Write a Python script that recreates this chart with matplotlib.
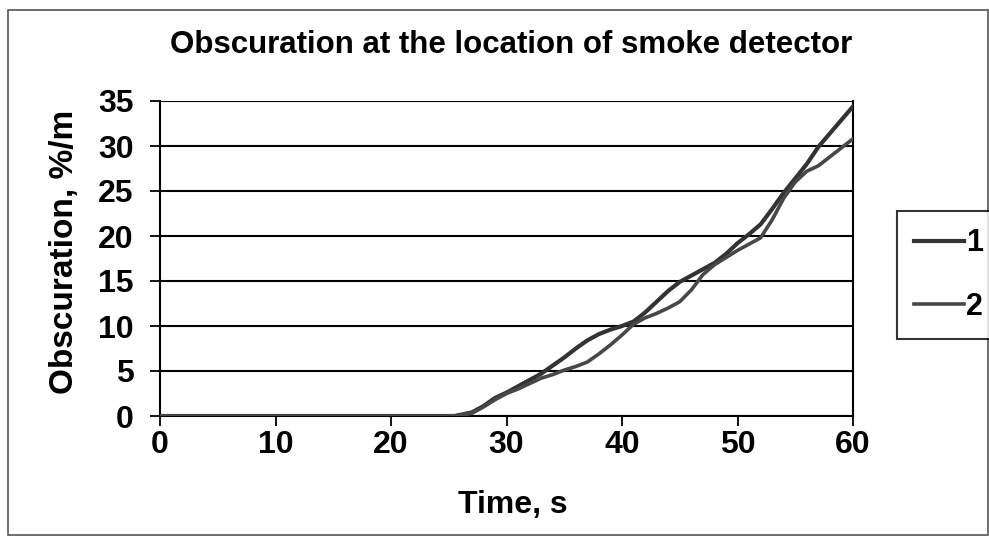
#!/usr/bin/env python3
"""Obscuration at the smoke detector location, two curves."""

import matplotlib
matplotlib.use("Agg")
import matplotlib.pyplot as plt
from matplotlib.patches import Rectangle

plt.rcParams["font.family"] = ["Liberation Sans", "DejaVu Sans"]
plt.rcParams["font.weight"] = "bold"

time_s = [0, 25.5, 27, 28, 29, 30, 31, 32, 33, 34, 35, 36, 37, 38, 39, 40,
          41, 42, 43, 44, 45, 46, 47, 48, 49, 50, 51, 52, 53, 54, 55, 56,
          57, 58, 59, 60]
curve_1 = [0, 0, 0.4, 1.1, 2.0, 2.6, 3.3, 4.0, 4.7, 5.6, 6.5, 7.5, 8.4, 9.1,
           9.6, 10.0, 10.5, 11.5, 12.7, 13.9, 14.9, 15.6, 16.3, 17.0, 18.0,
           19.2, 20.2, 21.3, 23.0, 24.8, 26.4, 28.0, 29.9, 31.4, 32.9, 34.4]
curve_2 = [0, 0, 0.3, 1.0, 1.8, 2.5, 3.0, 3.6, 4.2, 4.6, 5.1, 5.5, 6.0, 6.9,
           7.9, 9.0, 10.2, 10.9, 11.4, 12.0, 12.7, 14.0, 15.7, 16.8, 17.6,
           18.4, 19.1, 19.8, 21.8, 24.2, 26.0, 27.2, 27.8, 28.8, 29.8, 30.8]
labels = ["1", "2"]

x_ticks = [0, 10, 20, 30, 40, 50, 60]
y_ticks = [0, 5, 10, 15, 20, 25, 30, 35]

W, H = 989, 539
fig = plt.figure(figsize=(W / 100, H / 100), dpi=100)
fig.patch.set_facecolor("white")

# outer chart border
fig.patches.append(Rectangle((8 / W, 4 / H), 980 / W, 525 / H,
                             transform=fig.transFigure, fill=False,
                             edgecolor="#555555", linewidth=1.2))

ax = fig.add_axes([160 / W, 1 - 416 / H, (853 - 160) / W, (416 - 101) / H])

ax.plot(time_s, curve_1, color="#333333", linewidth=3.0, label=labels[0],
        solid_joinstyle="round", zorder=3)
ax.plot(time_s, curve_2, color="#474747", linewidth=2.6, label=labels[1],
        solid_joinstyle="round", zorder=3)

ax.set_xlim(0, 60)
ax.set_ylim(0, 35)
ax.set_xticks(x_ticks)
ax.set_yticks(y_ticks)
ax.tick_params(axis="both", direction="out", length=7, width=1.3,
               labelsize=23, colors="black")
ax.tick_params(axis="x", pad=3)
ax.tick_params(axis="y", pad=12)
for lab in ax.get_xticklabels() + ax.get_yticklabels():
    lab.set_fontweight("bold")

ax.grid(axis="y", color="black", linewidth=1.5)
ax.set_axisbelow(True)
for side in ["left", "bottom", "right"]:
    ax.spines[side].set_color("black")
    ax.spines[side].set_linewidth(1.5)
ax.spines["top"].set_visible(False)

fig.text(511 / W, 1 - 45 / H, "Obscuration at the location of smoke detector",
         fontsize=22.5, fontweight="bold", ha="center", va="center")
fig.text(513 / W, 1 - 505 / H, "Time, s",
         fontsize=23, fontweight="bold", ha="center", va="center")
fig.text(65 / W, 1 - 252 / H, "Obscuration, %/m", rotation=90,
         fontsize=24, fontweight="bold", ha="center", va="center")

leg = fig.legend(loc="center left", bbox_to_anchor=(897 / W, 1 - 275 / H),
                 fontsize=22, frameon=True, fancybox=False,
                 handlelength=1.65, handletextpad=0.05, labelspacing=1.1,
                 borderpad=0.55, borderaxespad=0)
leg.get_frame().set_edgecolor("black")
leg.get_frame().set_linewidth(1.5)
for t in leg.get_texts():
    t.set_fontweight("bold")

fig.savefig("out.png", dpi=100, facecolor="white")
